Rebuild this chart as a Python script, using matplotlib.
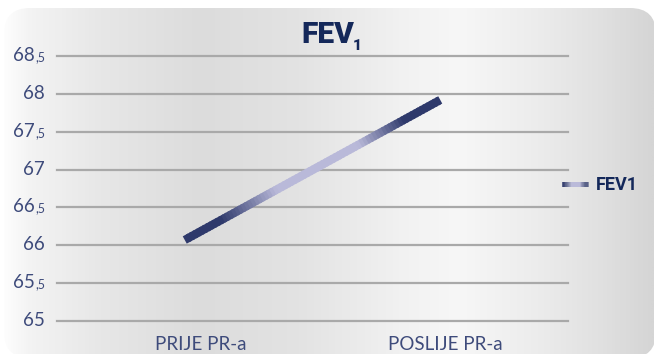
import numpy as np
import matplotlib
matplotlib.use("Agg")
import matplotlib.pyplot as plt
from matplotlib.colors import LinearSegmentedColormap
from matplotlib.patches import FancyBboxPatch
from matplotlib.path import Path
from matplotlib.transforms import Affine2D, ScaledTranslation
from matplotlib.patheffects import AbstractPathEffect

# ---- data ----
categories = ["PRIJE PR-a", "POSLIJE PR-a"]
fev1_values = [66.07, 67.92]
y_ticks = [65, 65.5, 66, 66.5, 67, 67.5, 68, 68.5]
series_label = "FEV1"

NAVY = "#14285a"
TICK_COLOR = "#3e4b7b"
LINE_DARK = "#2e396b"
LINE_LIGHT = "#b9b9d9"
TICK_FONT = dict(family="Lato", weight="normal")

line_cmap = LinearSegmentedColormap.from_list(
    "fev_stroke",
    [(0.0, LINE_DARK), (0.14, LINE_DARK), (0.36, LINE_LIGHT),
     (0.68, LINE_LIGHT), (0.86, LINE_DARK), (1.0, LINE_DARK)])


class GradientStroke(AbstractPathEffect):
    """Strokes a path with a colour that varies along its length."""

    def __init__(self, cmap, steps=80):
        super().__init__()
        self.cmap = cmap
        self.steps = steps

    def draw_path(self, renderer, gc, tpath, affine, rgbFace=None):
        pts = affine.transform(tpath.vertices)
        p0, p1 = pts[0], pts[-1]
        d = p1 - p0
        n = self.steps
        for i in range(n):
            t0 = i / n
            t1 = min((i + 1.6) / n, 1.0)
            g = renderer.new_gc()
            g.copy_properties(gc)
            g.set_foreground(self.cmap((i + 0.5) / n))
            g.set_capstyle("butt")
            seg = Path([p0 + d * t0, p0 + d * t1])
            renderer.draw_path(g, seg, Affine2D())
            g.restore()


W, H = 654, 354
fig = plt.figure(figsize=(W / 100, H / 100), dpi=100)
fig.patch.set_facecolor("white")

# ---- rounded grey panel behind the chart ----
bg = fig.add_axes([0, 0, 1, 1], zorder=-10)
bg.set_xlim(0, W)
bg.set_ylim(0, H)
bg.axis("off")
xs = np.array([0, 30, 100, 200, 300, 400, 460, 540, 600, 654]) / W
grey = ["#fefefe", "#f3f3f3", "#e7e7e7", "#dcdcdc", "#e3e3e3",
        "#f1f1f1", "#f7f7f7", "#ececec", "#e1e1e1", "#d5d5d5"]
panel_cmap = LinearSegmentedColormap.from_list("panel", list(zip(xs, grey)))
grad = np.tile(np.linspace(0, 1, 600), (2, 1))
img = bg.imshow(grad, cmap=panel_cmap, extent=[0, W, 0, H],
                aspect="auto", origin="lower", interpolation="bilinear")
panel = FancyBboxPatch((4, -4), W - 2, H - 8 + 4,
                       boxstyle="round,pad=0,rounding_size=26",
                       transform=bg.transData, facecolor="none",
                       edgecolor="none")
bg.add_patch(panel)
img.set_clip_path(panel)

# ---- main plot ----
left, right, top, bottom = 57, 568, 56, 321
ax = fig.add_axes([left / W, 1 - bottom / H, (right - left) / W,
                   (bottom - top) / H])
ax.set_facecolor("none")
ax.set_xlim(-0.5, 1.5)
ax.set_ylim(65, 68.5)
for s in ax.spines.values():
    s.set_visible(False)

ax.set_yticks(y_ticks)
ax.yaxis.grid(True, color="#a9a9a9", linewidth=1.6)
for gl in ax.get_ygridlines():
    gl.set_clip_on(False)
ax.set_axisbelow(True)
ax.tick_params(axis="both", length=0)

# y tick labels: integer part normal, ",5" set smaller
ax.set_yticklabels([])
ytrans = ax.get_yaxis_transform()
pt = 72 / 100  # points per pixel
for v in y_ticks:
    whole = int(v)
    main_dx = -12
    if v != whole:
        ax.annotate(",5", xy=(0, v), xycoords=ytrans,
                    xytext=(-12 * pt, -5 * pt), textcoords="offset points",
                    ha="right", va="baseline", fontsize=9,
                    color=TICK_COLOR, **TICK_FONT)
        main_dx = -22
    ax.annotate(str(whole), xy=(0, v), xycoords=ytrans,
                xytext=(main_dx * pt, -5 * pt), textcoords="offset points",
                ha="right", va="baseline", fontsize=13.5,
                color=TICK_COLOR, **TICK_FONT)

ax.set_xticks(range(len(categories)))
ax.set_xticklabels(categories, fontsize=13.5, color=TICK_COLOR, **TICK_FONT)
ax.tick_params(axis="x", pad=11)
for lab, dx in zip(ax.get_xticklabels(), [16, 5]):
    lab.set_transform(lab.get_transform() +
                      ScaledTranslation(dx / 100, 0, fig.dpi_scale_trans))

line, = ax.plot(range(len(categories)), fev1_values, linewidth=6,
                solid_capstyle="butt", color=LINE_DARK, label=series_label,
                clip_on=False)
line.set_path_effects([GradientStroke(line_cmap)])

# ---- legend ----
leg = fig.legend(handles=[line], loc="center left",
                 bbox_to_anchor=(562 / W, 1 - 185 / H), frameon=False,
                 prop=dict(family="Roboto", weight="bold", size=13),
                 handlelength=1.45, handletextpad=0.42, borderpad=0,
                 borderaxespad=0)
for t in leg.get_texts():
    t.set_color(NAVY)
for h in leg.get_lines():
    h.set_linewidth(3.6)

# ---- title ----
fig.text(301 / W, 1 - 43 / H, "FEV", ha="left", va="baseline",
         fontsize=21.5, weight="heavy", color=NAVY, family="Roboto")
fig.text(353 / W, 1 - 50 / H, "1", ha="left", va="baseline",
         fontsize=11, weight="heavy", color=NAVY, family="Roboto")

fig.savefig("out.png", dpi=100, facecolor=fig.get_facecolor())
